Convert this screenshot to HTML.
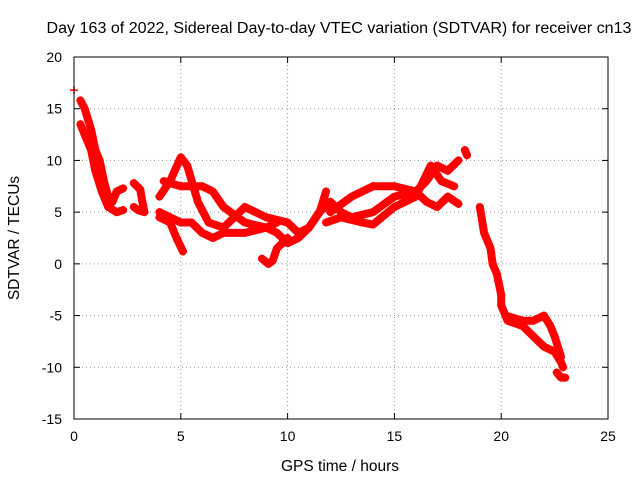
<!DOCTYPE html>
<html><head><meta charset="utf-8"><style>
body{margin:0;background:#fff}
svg{display:block;font-family:"Liberation Sans",sans-serif}
</style></head><body>
<svg id="chart" width="640" height="480" viewBox="0 0 640 480">
<rect width="640" height="480" fill="#fff"/>
<text x="339" y="33" font-size="15.5" text-anchor="middle" textLength="585" lengthAdjust="spacingAndGlyphs">Day 163 of 2022, Sidereal Day-to-day VTEC variation (SDTVAR) for receiver cn13</text>
<text x="340" y="471" font-size="15.5" text-anchor="middle">GPS time / hours</text>
<text transform="translate(19,238) rotate(-90)" font-size="15.5" text-anchor="middle">SDTVAR / TECUs</text>
<g id="grid"></g><g id="series"></g>
<rect x="74" y="57" width="534" height="362" fill="none" stroke="#000" stroke-width="1"/>
<g id="ticks"></g>
</svg>
<script>
const xTicks=[0,5,10,15,20,25];
const yTicks=[20,15,10,5,0,-5,-10,-15];
const lonePoint=[[0,16.8]];
const traceA=[[0.3,15.8],[0.5,15],[0.8,13],[1,11],[1.2,10],[1.4,8],[1.6,6.5],[1.8,6],[2,7],[2.3,7.3]];
const traceB=[[0.3,13.5],[0.6,12],[0.8,11],[1,9],[1.3,7],[1.6,5.5],[2,5],[2.3,5.2]];
const traceC=[[2.8,7.8],[3.1,7.2],[3.2,6],[3.3,5],[3,5.2],[2.8,5.5]];
const traceD=[[4,6.5],[4.5,8],[5,10.3],[5.3,9.5],[5.8,6],[6.3,4],[7,3.5],[7.5,4.5],[8,5.5],[9,4.5],[10,4],[10.5,3],[11,3.5],[11.5,5],[11.8,7]];
const traceE=[[4,4.5],[4.5,4],[4.8,2.5],[5.1,1.2]];
const traceF=[[4.2,8],[5,7.5],[6,7.5],[6.5,7],[7,5.5],[8,4],[9,3.5],[9.5,3],[10,2],[10.5,2.5],[11,3.5],[11.8,6]];
const traceG=[[4,5],[5,4],[5.5,4],[6,3],[6.5,2.5],[7,3],[8,3],[9,3.5],[9.5,4]];
const traceH=[[8.8,0.5],[9.1,0],[9.3,0.3],[9.5,1.5],[10,2.5]];
const traceI=[[11.5,5],[12,6],[12.5,5],[13,4.5],[14,5],[15,6.5],[16,7],[16.5,8],[17,9.5],[17.5,9],[18,10]];
const traceJ=[[12,5],[13,6.5],[14,7.5],[15,7.5],[16,7],[16.5,6],[17,5.5],[17.5,6.5],[18,5.8]];
const traceK=[[11.8,4],[12.5,4.5],[13.5,4],[14,3.8],[15,5.5],[16,6.5],[16.7,9.5],[17.2,8],[17.8,7.5]];
const traceL=[[18.3,11],[18.4,10.5]];
const traceM=[[19,5.5],[19.2,3],[19.5,1.5],[19.6,0],[19.8,-1],[20,-3],[20,-4],[20.3,-5.5],[21,-6],[21.5,-7],[22,-8],[22.5,-8.5],[22.8,-9.5],[22.9,-10]];
const traceN=[[20.2,-5],[21,-5.5],[21.5,-5.5],[22,-5],[22.3,-6],[22.5,-7],[22.8,-9]];
const traceO=[[22.6,-10.5],[22.8,-11],[23,-11]];
const traces=[traceA,traceB,traceC,traceD,traceE,traceF,traceG,traceH,traceI,traceJ,traceK,traceL,traceM,traceN,traceO];

const NS="http://www.w3.org/2000/svg";
const X=v=>74+v*534/25;
const Y=v=>57+(20-v)*362/35;
const grid=document.getElementById('grid'),ticks=document.getElementById('ticks'),ser=document.getElementById('series');
function mk(tag,attrs,parent){const e=document.createElementNS(NS,tag);for(const k in attrs)e.setAttribute(k,attrs[k]);parent.appendChild(e);return e;}
xTicks.forEach(t=>{
  const x=X(t);
  if(t>0&&t<25){const g=mk('line',{x1:x,x2:x,y1:57,y2:419,stroke:'#999','stroke-dasharray':'1,3'},grid);
  
  }
  const l=mk('text',{x:x,y:441,'font-size':14,'text-anchor':'middle'},ticks);l.textContent=t;
  
  
  mk('line',{x1:x,x2:x,y1:419,y2:413,stroke:'#000'},ticks);mk('line',{x1:x,x2:x,y1:57,y2:63,stroke:'#000'},ticks);
});
yTicks.forEach(t=>{
  const y=Y(t);
  if(t<20&&t>-15){const g=mk('line',{x1:74,x2:608,y1:y,y2:y,stroke:'#999','stroke-dasharray':'1,3'},grid);
  
  }
  const l=mk('text',{x:62,y:y+5,'font-size':14,'text-anchor':'end'},ticks);l.textContent=t;
  
  
  mk('line',{x1:74,x2:80,y1:y,y2:y,stroke:'#000'},ticks);mk('line',{x1:608,x2:602,y1:y,y2:y,stroke:'#000'},ticks);
});
function marker(d){
  const x=X(d[0]),y=Y(d[1]);
  const m=mk('path',{d:`M${x-4},${y}H${x+4}M${x},${y-4}V${y+4}`,stroke:'#f00','stroke-width':1.5},ser);
  
  
}
lonePoint.forEach(marker);
traces.forEach((tr,i)=>{
  const p=mk('polyline',{points:tr.map(d=>X(d[0])+','+Y(d[1])).join(' '),fill:'none',stroke:'#f00','stroke-width':8,'stroke-linejoin':'round','stroke-linecap':'round'},ser);
  
  
  tr.forEach(marker);
});
</script>
</body></html>
